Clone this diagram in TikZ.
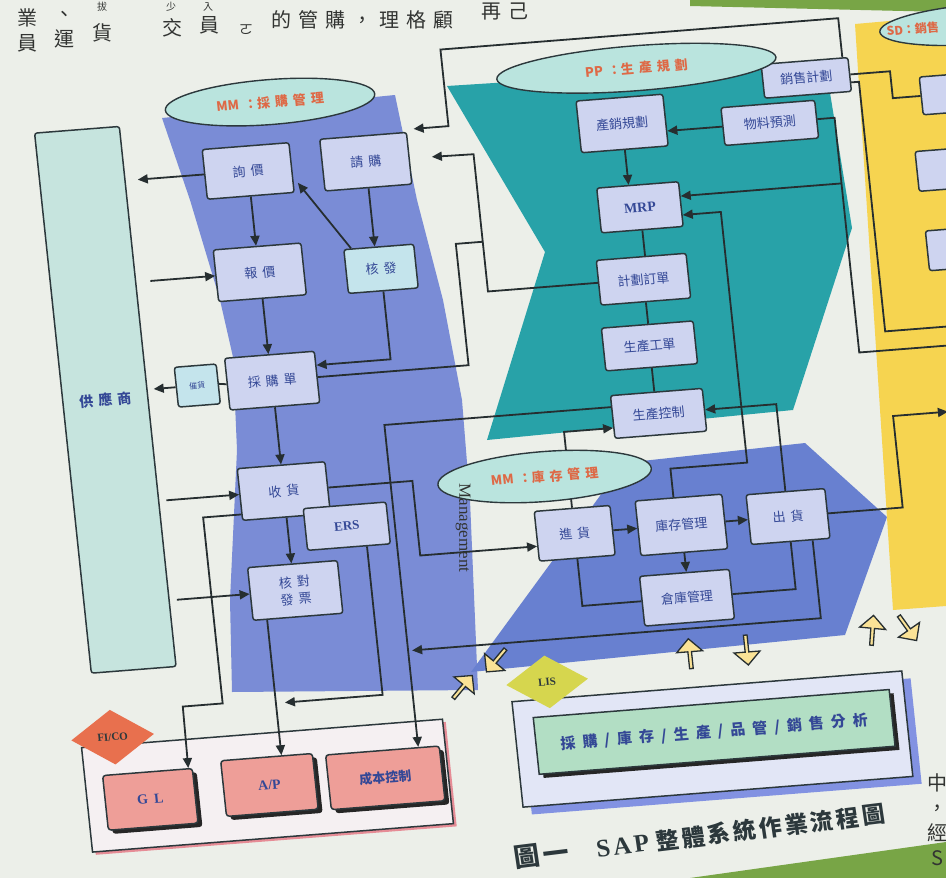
\documentclass[tikz,border=0pt]{standalone}
\usepackage{fontspec}
\setmainfont{Liberation Serif}
\newfontfamily\cjk{Noto Sans CJK TC}
\usetikzlibrary{arrows.meta,calc,shapes.geometric,shapes.arrows,shadows}
\definecolor{paper}{RGB}{236,239,233}
\definecolor{mmblue}{RGB}{122,140,214}
\definecolor{ppteal}{RGB}{40,162,168}
\definecolor{invblue}{RGB}{104,128,208}
\definecolor{sdyellow}{RGB}{246,212,80}
\definecolor{bggreen}{RGB}{120,165,70}
\definecolor{boxfill}{RGB}{206,212,240}
\definecolor{lightcyan}{RGB}{196,228,236}
\definecolor{boxline}{RGB}{44,56,60}
\definecolor{elfill}{RGB}{186,228,222}
\definecolor{eltext}{RGB}{222,105,70}
\definecolor{txtblue}{RGB}{52,72,150}
\definecolor{linec}{RGB}{38,46,48}
\definecolor{supfill}{RGB}{198,228,222}
\definecolor{pinkbox}{RGB}{238,158,152}
\definecolor{ficored}{RGB}{232,112,78}
\definecolor{ficofill}{RGB}{245,240,242}
\definecolor{ficoshadow}{RGB}{230,140,150}
\definecolor{lisgreen}{RGB}{178,222,196}
\definecolor{lisyel}{RGB}{214,214,78}
\definecolor{lisfill}{RGB}{226,230,246}
\definecolor{lisshadow}{RGB}{130,146,226}
\definecolor{arrowyel}{RGB}{250,226,150}
\definecolor{pagetext}{RGB}{50,52,50}
\newcommand\ls{\hspace{5pt}}
\newcommand\lz{\hspace{7pt}}
\newcommand\lc{\hspace{3pt}}
\begin{document}
\begin{tikzpicture}[x=1pt,y=-1pt,
  box/.style={draw=boxline,line width=1.5pt,fill=boxfill,rounded corners=2.5pt,inner sep=0pt,text=txtblue,font=\cjk\fontsize{13}{17}\selectfont,align=center},
  sz/.style 2 args={minimum width=#1pt,minimum height=#2pt},
  pbox/.style={draw=boxline,line width=1.5pt,fill=pinkbox,rounded corners=3pt,inner sep=0pt,text=txtblue,drop shadow={shadow xshift=4pt,shadow yshift=-4pt,fill=black!85,opacity=1}},
  el/.style={ellipse,draw=boxline,line width=1.4pt,fill=elfill,text=eltext,inner sep=0pt,font=\cjk\bfseries\fontsize{13}{15}\selectfont},
  ln/.style={draw=linec,line width=1.8pt},
  arr/.style={ln,-{Triangle[length=10pt,width=9pt]}},
  barr/.style={single arrow,draw=linec,line width=1.3pt,fill=arrowyel,minimum height=30pt,minimum width=26pt,single arrow head extend=4pt,inner sep=0pt},
  pagetxt/.style={text=pagetext,font=\cjk\fontsize{20}{25}\selectfont,align=center,inner sep=0pt},
  smalltxt/.style={text=pagetext,font=\cjk\fontsize{10}{12}\selectfont,inner sep=0pt}
]
\useasboundingbox (0,0) rectangle (946,878);
\fill[paper] (0,0) rectangle (946,878);
% background regions (observed coordinates)
\fill[bggreen] (690,0) -- (946,0) -- (946,12) -- (690,6) -- cycle;
\fill[bggreen] (690,878) -- (946,842) -- (946,878) -- cycle;
\fill[mmblue] (162,118) -- (395,95) -- (417,200) -- (443,300) -- (462,400) -- (470,500) -- (478,690) -- (232,692) -- (230,600) -- (237,450) -- (233,357) -- (220,300) -- (190,200) -- cycle;
\fill[ppteal] (447,86) -- (825,62) -- (852,228) -- (793,410) -- (487,440) -- (545,252) -- cycle;
\fill[invblue] (624,463) -- (805,443) -- (887,517) -- (845,635) -- (471,672) -- cycle;
\fill[sdyellow] (855,24) -- (946,16) -- (946,606) -- (893,610) -- cycle;
% page text
\node[pagetxt] at (27,30) {業\\員};
\node[pagetxt] at (64,30) {、\\運};
\node[smalltxt] at (102,7) {拔};
\node[pagetxt] at (102,33) {貨};
\node[smalltxt] at (171,7) {少};
\node[pagetxt] at (172,28) {交};
\node[smalltxt] at (208,7) {入};
\node[pagetxt] at (209,25) {員};
\node[pagetxt,font=\cjk\fontsize{14}{16}\selectfont] at (246,30) {ㄛ};
\node[pagetxt] at (362,20) {的\lz 管\lz 購\lz ，\lz 理\lz 格\lz 顧};
\node[pagetxt] at (505,12) {再\lz 己};
\node[pagetxt] at (937,820) {中\\，\\經\\S};

\begin{scope}[transform canvas={cm={0.9969,0.0785,-0.1045,0.9945,(0,0)}}]
% MM purchasing
\node[box,sz={85}{543},fill=supfill,font=\cjk\bfseries\fontsize{14}{16}\selectfont] (sup) at (63,407) {供\ls 應\ls 商};
\node[box,sz={87}{50}] (xj) at (229,190) {詢\ls 價};
\node[box,sz={87}{52}] (qg) at (347,190) {請\ls 購};
\node[box,sz={88}{52}] (bj) at (230,292) {報\ls 價};
\node[box,sz={70}{44},fill=lightcyan] (hf) at (351,298) {核\ls 發};
\node[box,sz={90}{52}] (cgd) at (231,401) {採\ls 購\ls 單};
\node[box,sz={42}{40},fill=lightcyan,font=\cjk\fontsize{8}{10}\selectfont] (ch) at (156,400) {催貨};
\node[box,sz={88}{52}] (sh) at (231,512) {收\ls 貨};
\node[box,sz={83}{42},font=\bfseries\fontsize{13}{15}\selectfont] (ers) at (290,552) {ERS};
\node[box,sz={90}{53}] (hd) at (232,612) {核\ls 對\\發\ls 票};
% PP
\node[box,sz={87}{52}] (cx) at (606,172) {產銷規劃};
\node[box,sz={94}{38}] (wl) at (753,183) {物料預測};
\node[box,sz={87}{34}] (xs) at (794,141) {銷售計劃};
\node[box,sz={82}{45},font=\bfseries\fontsize{14}{16}\selectfont] (mrp) at (615,257) {MRP};
\node[box,sz={90}{45}] (jh) at (611,329) {計劃訂單};
\node[box,sz={92}{43}] (gd) at (610,396) {生產工單};
\node[box,sz={92}{43}] (kz) at (612,464) {生產控制};
% inventory
\node[box,sz={76}{50}] (jhuo) at (516,577) {進\ls 貨};
\node[box,sz={87}{55}] (kc) at (623,577) {庫存管理};
\node[box,sz={79}{50}] (chu) at (730,577) {出\ls 貨};
\node[box,sz={90}{50}] (ck) at (621,650) {倉庫管理};
% SD (cut off)
\node[box,sz={87}{38}] (sd1) at (950,168) {};
\node[box,sz={87}{40}] (sd2) at (938,243) {};
\node[box,sz={87}{40}] (sd3) at (940,323) {};
% FI/CO
\fill[ficoshadow] (6,755) rectangle (368,860);
\draw[boxline,line width=1.5pt,fill=ficofill] (3,752) rectangle (365,857);
\node[pbox,sz={90}{55},font=\bfseries\fontsize{14}{16}\selectfont] (gl) at (66,809) {G\hspace{6pt}L};
\node[pbox,sz={92}{56},font=\bfseries\fontsize{14}{16}\selectfont] (ap) at (186,804) {A/P};
\node[pbox,sz={114}{55},font=\cjk\bfseries\fontsize{13}{15}\selectfont] (cb) at (302,806) {成本控制};
% LIS
\fill[lisshadow] (444,748) rectangle (835,854);
\draw[boxline,line width=1.5pt,fill=lisfill] (436,740) rectangle (827,846);
\node[draw=boxline,line width=1.5pt,fill=lisgreen,sz={357}{57},inner sep=0pt,text=txtblue,font=\cjk\bfseries\fontsize{15}{17}\selectfont,drop shadow={shadow xshift=4pt,shadow yshift=-4pt,fill=black!85,opacity=1}] (lisIn) at (634,786) {採\lz 購\lz /\lz 庫\lz 存\lz /\lz 生\lz 產\lz /\lz 品\lz 管\lz /\lz 銷\lz 售\lz 分\lz 析};
% connectors
\draw[arr,shorten >=12pt] (xj.west) -- (xj.west -| sup.east);
\draw[arr,shorten <=14pt] (bj.west -| sup.east) -- (bj.west);
\draw[arr] (xj.south) -- (xj.south |- bj.north);
\draw[arr] (qg.south) -- (qg.south |- hf.north);
\draw[arr] ($(hf.north west)+(8,0)$) -- ($(xj.south east)+(4,-10)$);
\draw[arr] (bj.south) -- (bj.south |- cgd.north);
\draw[arr] (hf.south) |- ($(cgd.east)+(0,-12)$);
\draw[ln] (cgd.west) -- (ch.east);
\draw[arr,shorten >=6pt] (ch.west) -- (ch.west -| sup.east);
\draw[arr] (cgd.south) -- (cgd.south |- sh.north);
\draw[ln] (cgd.east) -- (428,401) -- (428,279) -- (455,279);
\draw[arr,shorten >=22pt] (jh.west) -| (455,191) -- (qg.east);
\draw[arr] (sh.south) -- (sh.south |- hd.north);
\draw[arr,shorten <=7pt] (sh.west -| sup.east) -- (sh.west);
\draw[arr,shorten <=7pt] (hd.west -| sup.east) -- (hd.west);
\draw[arr] ($(sh.west)+(0,20)$) -- (148,532) -- (148,719) -- (108,719) -- ($(gl.north)+(41,0)$);
\draw[arr] ($(hd.south)+(-31,0)$) -- ($(ap.north)+(15,0)$);
\draw[arr] ($(ers.south)+(18,0)$) |- (210,723);
\draw[arr] ($(kz.west)+(0,-10)$) -| ($(cb.north)+(36,0)$);
\draw[arr] (sh.east) -- (360,512) |- ($(jhuo.west)+(0,10)$);
\draw[arr] (jhuo.east) -- (kc.west);
\draw[arr] (kc.east) -- (chu.west);
\draw[arr] (kc.south) -- (kc.south |- ck.north);
\draw[ln] (jhuo.south) |- (ck.west);
\draw[ln] (ck.east) -| (chu.south);
\draw[arr] ($(chu.south)+(22,0)$) |- (342,681);
\draw[arr] (chu.north) |- (kz.east);
\draw[arr] ($(kc.north)+(-5,0)$) |- (695,520) |- ($(mrp.east)+(0,11)$);
\draw[arr] (cx.south) -- (cx.south |- mrp.north);
\draw[arr] (wl.west) -- (wl.west -| cx.east);
\draw[ln] (mrp.south) -- (mrp.south |- jh.north);
\draw[ln] (jh.south) -- (jh.south |- gd.north);
\draw[ln] (gd.south) -- (gd.south |- kz.north);
\draw[arr] (jhuo.north) |- ($(kz.west)+(0,11)$);
\draw[arr] ($(xs.north)+(38,0)$) |- (433,84) |- (398,161);
\draw[arr] (chu.east) -| (845,485) -- (900,485);
\draw[ln] (xs.east) -| (878,168) -- (sd1.west);
\draw[ln] ($(xs.east)+(0,8)$) -| (846,400) -- (960,400);
\draw[ln] (wl.east) -| (818,419) -- (960,419);
\draw[arr] (818,249) -- ($(mrp.east)+(0,-8)$);
% ellipses
\node[el,sz={210}{45}] (mmE) at (258,123) {MM\ls ：採\ls 購\ls 管\ls 理};
\node[el,sz={280}{45}] (ppE) at (626,118) {PP\ls ：生\ls 產\ls 規\ls 劃};
\node[el,sz={214}{50}] (invE) at (492,518) {MM\ls ：庫\ls 存\ls 管\ls 理};
\node[el,sz={200}{40}] (sdE) at (972,101) {};
\node[text=eltext,font=\cjk\bfseries\fontsize{12}{14}\selectfont,inner sep=0pt] (sdT) at (905,101) {SD：銷售};
% diamonds
\node[diamond,fill=ficored,sz={83}{55},inner sep=0pt,text=boxline,font=\bfseries\fontsize{11}{13}\selectfont] (ficoD) at (35,744) {FI/CO};
\node[diamond,fill=lisyel,sz={82}{53},inner sep=0pt,text=boxline,font=\bfseries\fontsize{11}{13}\selectfont] (lisD) at (473,723) {LIS};
% block arrows
\node[barr,rotate=90] (ba1) at (618,707) {};
\node[barr,rotate=-90] (ba2) at (675,706) {};
\node[barr,rotate=45] (ba3) at (388,722) {};
\node[barr,rotate=-135] (ba4) at (425,697) {};
\node[barr,rotate=80] (ba5) at (802,698) {};
\node[barr,rotate=-60] (ba6) at (837,697) {};
% caption
\node[rotate=2.5,text=boxline,font=\cjk\bfseries\fontsize{26}{28}\selectfont,inner sep=0pt] (cap1) at (449,895) {圖\lc 一};
\node[rotate=2.5,text=boxline,inner sep=0pt,anchor=center] (cap2) at (650,887) {{\bfseries\fontsize{25}{28}\selectfont S\lc A\lc P}\hspace{7pt}{\cjk\bfseries\fontsize{23}{28}\selectfont 整\lc 體\lc 系\lc 統\lc 作\lc 業\lc 流\lc 程\lc 圖}};
\end{scope}
\node[pagetxt,font=\fontsize{17}{19}\selectfont,rotate=-90] at (463,528) {Management};
\end{tikzpicture}
\end{document}
